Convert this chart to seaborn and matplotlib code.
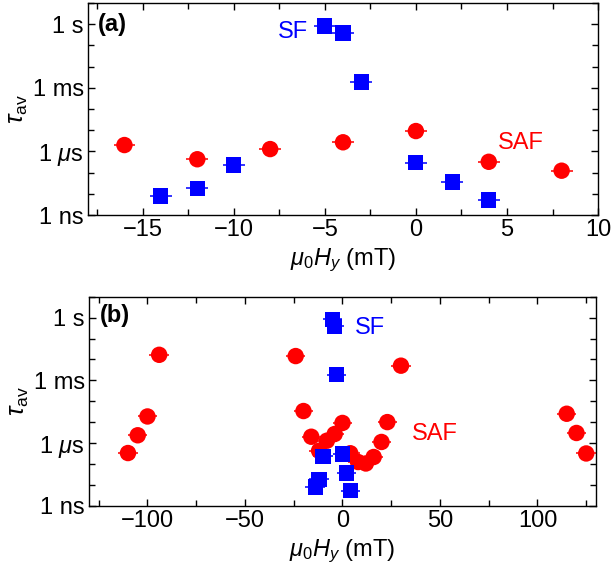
import numpy as np
import pandas as pd
import seaborn as sns
import matplotlib.pyplot as plt

# values (field in mT, tau in seconds as log10)
saf_h_a = [-16, -12, -8, -4, 0, 4, 8]
saf_logtau_a = [-5.70, -6.37, -5.89, -5.57, -5.04, -6.49, -6.91]

sf_h = [-14, -12, -10, -5, -4, -3, 0, 2, 4]
sf_logtau = [-8.10, -7.74, -6.64, -0.085, -0.415, -2.73, -6.53, -7.44, -8.29]

saf_h_extra = [-110, -105, -100, -94, -24, -20, 12, 16, 20, 23, 30, 115, 120, 125]
saf_logtau_extra = [-6.48, -5.63, -4.73, -1.78, -1.84, -4.47, -6.98, -6.67, -5.95, -5.0, -2.30, -4.60, -5.52, -6.50]

xerr_a = 0.6
xerr_b = 5.0

ytick_vals = [1e-9, 1e-6, 1e-3, 1e0]
ytick_labels = ['1 ns', r'1 $\mu$s', '1 ms', '1 s']

saf_a = pd.DataFrame({'H': saf_h_a, 'tau': 10.0 ** np.array(saf_logtau_a)})
sf = pd.DataFrame({'H': sf_h, 'tau': 10.0 ** np.array(sf_logtau)})
saf_b = pd.concat([saf_a, pd.DataFrame({'H': saf_h_extra,
                                        'tau': 10.0 ** np.array(saf_logtau_extra)})],
                  ignore_index=True)

sns.set_style('ticks')
plt.rcParams['font.family'] = ['Liberation Sans', 'DejaVu Sans']
plt.rcParams['font.size'] = 17
plt.rcParams['text.color'] = 'black'
plt.rcParams['axes.labelcolor'] = 'black'
plt.rcParams['xtick.color'] = 'black'
plt.rcParams['ytick.color'] = 'black'
plt.rcParams['mathtext.fontset'] = 'custom'
plt.rcParams['mathtext.rm'] = 'Liberation Sans'
plt.rcParams['mathtext.it'] = 'Liberation Sans:italic'

RED = '#ff0000'
BLUE = '#0000ff'
FS = 17

fig = plt.figure(figsize=(6.12, 5.67), dpi=100)
ax_a = fig.add_axes([0.1438, 0.6208, 0.8334, 0.3739])
ax_b = fig.add_axes([0.1454, 0.1081, 0.8284, 0.3686])


def draw(ax, saf, xerr):
    ax.errorbar(saf['H'], saf['tau'], xerr=xerr, fmt='none', ecolor=RED,
                elinewidth=1.4, alpha=0.8, zorder=2)
    ax.errorbar(sf['H'], sf['tau'], xerr=xerr, fmt='none', ecolor=BLUE,
                elinewidth=1.4, alpha=0.8, zorder=2)
    sns.scatterplot(data=saf, x='H', y='tau', ax=ax, marker='o', color=RED,
                    s=140, edgecolor='none', zorder=3)
    sns.scatterplot(data=sf, x='H', y='tau', ax=ax, marker='s', color=BLUE,
                    s=120, edgecolor='none', zorder=4)
    ax.set_yscale('log')
    ax.set_ylim(1e-9, 10)
    ax.set_yticks(ytick_vals)
    ax.set_yticklabels(ytick_labels)
    ax.set_yticks(10.0 ** np.arange(-9, 2), minor=True)
    ax.set_yticklabels([], minor=True)
    ax.tick_params(which='both', direction='in', top=True, right=True,
                   width=1, labelsize=FS, colors='black')
    ax.tick_params(which='major', length=5, pad=3)
    ax.tick_params(which='minor', length=4)
    ax.set_xlabel(r'$\mu_0H_y$ (mT)', fontsize=FS, labelpad=4)
    ax.set_ylabel(r'$\tau_{\rm av}$', fontsize=FS + 1, labelpad=2)
    for s in ax.spines.values():
        s.set_linewidth(1)
        s.set_color('black')


draw(ax_a, saf_a, xerr_a)
ax_a.set_xlim(-18, 10)
ax_a.set_xticks([-15, -10, -5, 0, 5, 10])
ax_a.set_xticklabels(['\u221215', '\u221210', '\u22125', '0', '5', '10'])
ax_a.set_xticks(np.arange(-17.5, 10.1, 2.5), minor=True)
ax_a.text(0.02, 0.90, '(a)', transform=ax_a.transAxes, fontsize=FS,
          fontweight='bold', va='center')
ax_a.text(-7.6, 10 ** -0.37, 'SF', color=BLUE, fontsize=FS, va='center')
ax_a.text(4.5, 10 ** -5.6, 'SAF', color=RED, fontsize=FS, va='center')

draw(ax_b, saf_b, xerr_b)
ax_b.set_xlim(-130, 130)
ax_b.set_xticks([-100, -50, 0, 50, 100])
ax_b.set_xticklabels(['\u2212100', '\u221250', '0', '50', '100'])
ax_b.set_xticks(np.arange(-125, 130, 25), minor=True)
ax_b.text(0.022, 0.91, '(b)', transform=ax_b.transAxes, fontsize=FS,
          fontweight='bold', va='center')
ax_b.text(6.5, 10 ** -0.48, 'SF', color=BLUE, fontsize=FS, va='center')
ax_b.text(35.6, 10 ** -5.59, 'SAF', color=RED, fontsize=FS, va='center')

fig.savefig('out.png', dpi=100)
